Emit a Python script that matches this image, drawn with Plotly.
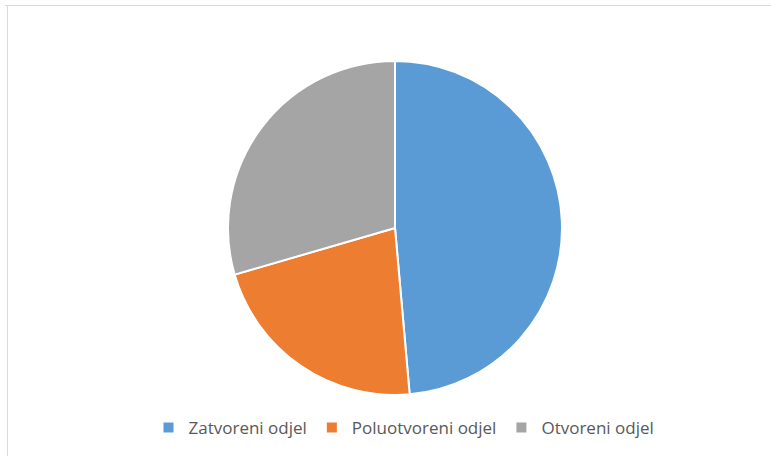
import plotly.graph_objects as go

labels = ["Zatvoreni odjel", "Poluotvoreni odjel", "Otvoreni odjel"]
values = [48.6, 21.9, 29.5]
colors = ["#5B9BD5", "#ED7D31", "#A5A5A5"]

W, H = 771, 456
fig = go.Figure(go.Pie(
    labels=labels, values=values, sort=False, direction="clockwise", rotation=0,
    marker=dict(colors=colors, line=dict(color="white", width=2)),
    textinfo="none", hoverinfo="label+percent",
    domain=dict(x=[228 / W, 562 / W], y=[1 - 395 / H, 1 - 61 / H]),
))
fig.update_layout(
    width=W, height=H, margin=dict(l=0, r=0, t=0, b=0),
    paper_bgcolor="white", plot_bgcolor="white",
    showlegend=True,
    legend=dict(orientation="h", x=404 / W, xanchor="center", y=1 - 428 / H, yanchor="middle",
                font=dict(family="Open Sans", size=17, color="#595959"),
                itemwidth=30, traceorder="normal"),
    shapes=[
        dict(type="line", xref="paper", yref="paper", x0=5 / W, x1=1, y0=1 - 5.5 / H, y1=1 - 5.5 / H,
             line=dict(color="#D9D9D9", width=1)),
        dict(type="line", xref="paper", yref="paper", x0=7.5 / W, x1=7.5 / W, y0=0, y1=1 - 5.5 / H,
             line=dict(color="#D9D9D9", width=1)),
    ],
)
fig.write_html("out.html", config={"displayModeBar": False},
               post_script="document.body.style.margin='0';")
